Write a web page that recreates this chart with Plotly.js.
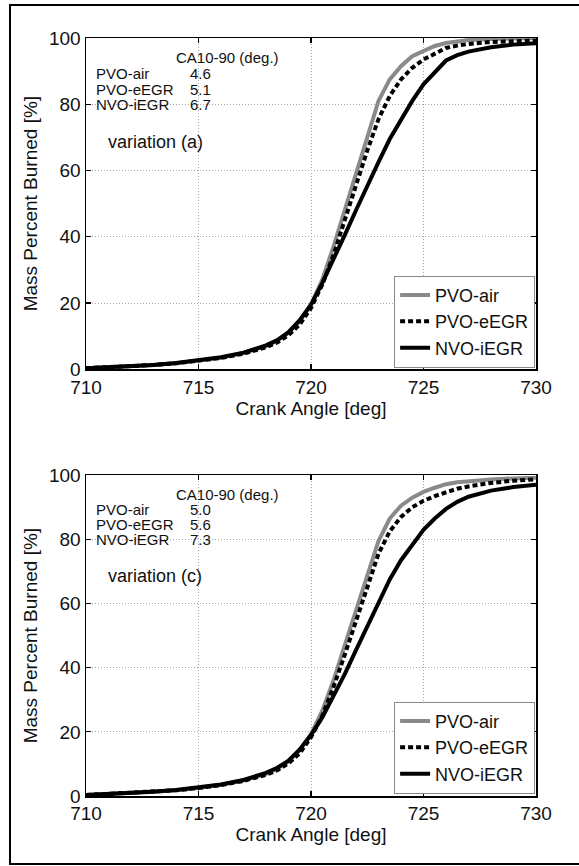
<!DOCTYPE html>
<html>
<head>
<meta charset="utf-8">
<script src="https://cdn.plot.ly/plotly-3.0.1.min.js"></script>
<style>
  html, body { margin: 0; padding: 0; background: #fff; overflow: hidden; }
  #chart { position: absolute; left: 0; top: 0; width: 579px; height: 866px; }
  #frame { position: absolute; left: 9px; top: 4px; width: 620px; height: 861px;
           box-sizing: border-box; border: 2px solid #000; border-right: none; pointer-events: none; }
</style>
</head>
<body>
<div id="chart"></div>
<div id="frame"></div>
<script>
// ---- data ----
var crankAngle = [710, 711, 712, 713, 714, 715, 716, 717, 718, 718.5, 719, 719.5, 720, 720.5, 721, 721.5, 722, 722.5, 723, 723.5, 724, 724.5, 725, 725.5, 726, 726.5, 727, 728, 729, 730];

// variation (a)
var pvoAirA   = [0.3, 0.6, 0.9, 1.3, 1.8, 2.5, 3.5, 4.9, 7.0, 8.6, 11.0, 14.5, 19.5, 27, 37, 48, 59, 70, 81, 87.5, 91.5, 94.5, 96.2, 97.6, 98.5, 99.0, 99.4, 99.7, 99.9, 100];
var pvoEegrA  = [0.3, 0.6, 0.9, 1.3, 1.8, 2.5, 3.4, 4.7, 6.6, 8.1, 10.3, 13.5, 18.5, 25.5, 34.5, 45, 55.5, 66, 75.5, 82.5, 87.5, 91, 93.5, 95.3, 97.0, 97.7, 98.2, 98.8, 99.0, 99.2];
var nvoIegrA  = [0.3, 0.6, 0.9, 1.3, 1.9, 2.6, 3.6, 5.0, 7.2, 8.8, 11.2, 14.8, 19.5, 26, 33, 40.5, 48, 55.5, 62.5, 69.5, 75.5, 81, 86, 89.5, 93.2, 94.8, 95.9, 97.2, 98.0, 98.4];

// variation (c)
var pvoAirC   = [0.3, 0.6, 0.9, 1.3, 1.8, 2.5, 3.5, 4.9, 6.9, 8.5, 10.8, 14.3, 19.3, 26.5, 36, 47, 58, 69, 79.5, 86.5, 90.5, 93, 94.8, 96.1, 97.2, 97.8, 98.2, 98.7, 99.0, 99.2];
var pvoEegrC  = [0.3, 0.6, 0.9, 1.3, 1.8, 2.5, 3.4, 4.7, 6.6, 8.0, 10.2, 13.3, 18.3, 25, 34, 44, 54.5, 65.5, 75.5, 82.5, 87, 90, 92, 93.5, 94.8, 95.8, 96.5, 97.6, 98.3, 98.7];
var nvoIegrC  = [0.3, 0.6, 0.9, 1.3, 1.9, 2.6, 3.6, 5.0, 7.2, 8.8, 11.0, 14.5, 19.0, 24.5, 31, 38, 45.5, 53, 60.5, 67.5, 73.5, 78.5, 83, 86.5, 89.5, 91.7, 93.3, 95.2, 96.3, 97.0];

var seriesNames = ["PVO-air", "PVO-eEGR", "NVO-iEGR"];
var ca1090A = ["4.6", "5.1", "6.7"];
var ca1090C = ["5.0", "5.6", "7.3"];
var tableHeader = "CA10-90 (deg.)";
var variationLabels = ["variation (a)", "variation (c)"];
var xTicks = [710, 715, 720, 725, 730];
var yTicks = [0, 20, 40, 60, 80, 100];

// ---- styles ----
var FONT = "Liberation Sans, Arial, sans-serif";
var styles = [
  {color: "#8a8a8a", width: 4, dash: "solid"},
  {color: "#000000", width: 4, dash: "5px,3px"},
  {color: "#000000", width: 4, dash: "solid"}
];

function makeTraces(ys, xa, ya, legendId) {
  return ys.map(function (y, i) {
    return {
      x: crankAngle, y: y, type: "scatter", mode: "lines",
      name: seriesNames[i], xaxis: xa, yaxis: ya, legend: legendId,
      line: {color: styles[i].color, width: styles[i].width, dash: styles[i].dash}
    };
  });
}

var traces = makeTraces([pvoAirA, pvoEegrA, nvoIegrA], "x", "y", "legend")
  .concat(makeTraces([pvoAirC, pvoEegrC, nvoIegrC], "x2", "y2", "legend2"));

var GRID = {showgrid: true, gridcolor: "#a8a8a8", griddash: "1px,2px", gridwidth: 1, zeroline: false};

function xAxis(anchor) {
  return Object.assign({
    anchor: anchor, range: [710, 730], tickvals: xTicks, ticktext: xTicks.map(String),
    showline: true, linecolor: "#000", linewidth: 1.5, mirror: "ticks",
    ticks: "inside", ticklen: 5, tickwidth: 1.2, tickcolor: "#000",
    tickfont: {family: FONT, size: 19, color: "#111"},
    title: {text: "Crank Angle [deg]", font: {family: FONT, size: 19, color: "#111"}, standoff: 2}
  }, GRID);
}
function yAxis(anchor, domain) {
  return Object.assign({
    anchor: anchor, domain: domain, range: [0, 100], tickvals: yTicks, ticktext: yTicks.map(String),
    showline: true, linecolor: "#000", linewidth: 1.5, mirror: "ticks",
    ticks: "inside", ticklen: 5, tickwidth: 1.2, tickcolor: "#000",
    tickfont: {family: FONT, size: 19, color: "#111"},
    title: {text: "Mass Percent Burned [%]", font: {family: FONT, size: 19, color: "#111"}, standoff: 6}
  }, GRID);
}

function tableAnnotations(xref, yref, values, variation) {
  var a = [];
  var base = {xref: xref, yref: yref, showarrow: false, xanchor: "left", yanchor: "middle",
              font: {family: FONT, size: 15, color: "#111"}};
  a.push(Object.assign({}, base, {x: 713.9, y: 94, text: tableHeader}));
  var rowsY = [89.3, 84.6, 79.9];
  for (var i = 0; i < 3; i++) {
    a.push(Object.assign({}, base, {x: 710.35, y: rowsY[i], text: seriesNames[i]}));
    a.push(Object.assign({}, base, {x: 714.55, y: rowsY[i], text: values[i]}));
  }
  a.push(Object.assign({}, base, {x: 710.9, y: 68.6, text: variation,
         font: {family: FONT, size: 18, color: "#111"}}));
  return a;
}

var legendBase = {
  xanchor: "right", yanchor: "bottom", bgcolor: "#fff", bordercolor: "#888", borderwidth: 1,
  font: {family: FONT, size: 18, color: "#111"}, itemwidth: 30, tracegroupgap: 0
};

var layout = {
  width: 579, height: 866,
  margin: {l: 86, r: 43, t: 37.5, b: 70, pad: 0},
  paper_bgcolor: "#fff", plot_bgcolor: "#fff",
  showlegend: true,
  xaxis: xAxis("y"),
  yaxis: yAxis("x", [0.563, 1]),
  xaxis2: xAxis("y2"),
  yaxis2: yAxis("x2", [0, 0.4232]),
  legend: Object.assign({}, legendBase, {x: 0.998, y: 0.565}),
  legend2: Object.assign({}, legendBase, {x: 0.998, y: 0.003}),
  annotations: tableAnnotations("x", "y", ca1090A, variationLabels[0])
    .concat(tableAnnotations("x2", "y2", ca1090C, variationLabels[1]))
};

Plotly.newPlot("chart", traces, layout, {staticPlot: true, displayModeBar: false});
</script>
</body>
</html>
